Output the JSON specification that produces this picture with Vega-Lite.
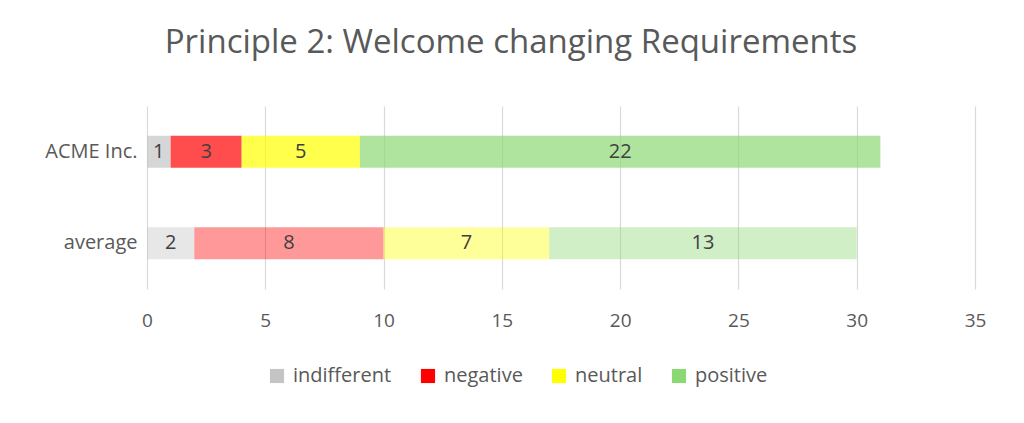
{
  "$schema": "https://vega.github.io/schema/vega-lite/v6.json",
  "width": 828,
  "height": 183,
  "autosize": "none",
  "padding": {"left": 147, "top": 106, "right": 49, "bottom": 134},
  "background": "white",
  "title": {
    "text": "Principle 2: Welcome changing Requirements",
    "font": "Open Sans",
    "fontSize": 33,
    "fontWeight": "normal",
    "color": "#595959",
    "anchor": "middle",
    "dx": -50,
    "offset": 46
  },
  "data": {
    "values": [
      {"company": "ACME Inc.", "sentiment": "indifferent", "count": 1},
      {"company": "ACME Inc.", "sentiment": "negative", "count": 3},
      {"company": "ACME Inc.", "sentiment": "neutral", "count": 5},
      {"company": "ACME Inc.", "sentiment": "positive", "count": 22},
      {"company": "average", "sentiment": "indifferent", "count": 2},
      {"company": "average", "sentiment": "negative", "count": 8},
      {"company": "average", "sentiment": "neutral", "count": 7},
      {"company": "average", "sentiment": "positive", "count": 13}
    ]
  },
  "transform": [
    {"stack": "count", "groupby": ["company"], "sort": [{"field": "sentiment", "order": "ascending"}], "as": ["v0", "v1"]},
    {"calculate": "(datum.v0 + datum.v1) / 2", "as": "mid"}
  ],
  "encoding": {
    "y": {
      "field": "company",
      "type": "nominal",
      "sort": ["ACME Inc.", "average"],
      "title": null,
      "scale": {"paddingInner": 0.65, "paddingOuter": 0.325},
      "axis": {"domain": false, "ticks": false, "labelFont": "Open Sans", "labelFontSize": 20, "labelColor": "#595959", "labelPadding": 10}
    }
  },
  "layer": [
    {
      "mark": {"type": "bar"},
      "encoding": {
        "x": {
          "field": "v0",
          "type": "quantitative",
          "scale": {"domain": [0, 35], "nice": false},
          "title": null,
          "axis": {"values": [0, 5, 10, 15, 20, 25, 30, 35], "labelFlush": false, "domain": false, "ticks": false, "grid": true, "gridColor": "#d9d9d9", "gridWidth": 1.2, "labelFont": "Open Sans", "labelFontSize": 19, "labelColor": "#595959", "labelPadding": 22}
        },
        "x2": {"field": "v1"},
        "color": {
          "field": "sentiment",
          "type": "nominal",
          "scale": {"domain": ["indifferent", "negative", "neutral", "positive"], "range": ["#c4c4c4", "#ff0000", "#ffff00", "#8bd874"]},
          "legend": {
            "title": null,
            "orient": "none",
            "direction": "horizontal",
            "legendX": 120,
            "legendY": 260,
            "symbolType": "square",
            "symbolSize": 200,
            "symbolStrokeWidth": 0,
            "labelFont": "Open Sans",
            "labelFontSize": 20,
            "labelColor": "#595959",
            "columnPadding": 26,
            "labelOffset": 6
          }
        },
        "opacity": {
          "field": "company",
          "type": "nominal",
          "scale": {"domain": ["ACME Inc.", "average"], "range": [0.7, 0.4]},
          "legend": null
        }
      }
    },
    {
      "mark": {"type": "text", "font": "Open Sans", "fontSize": 20, "color": "#404040"},
      "encoding": {
        "x": {"field": "mid", "type": "quantitative"},
        "text": {"field": "count", "type": "quantitative"}
      }
    }
  ],
  "config": {"view": {"stroke": null}}
}
